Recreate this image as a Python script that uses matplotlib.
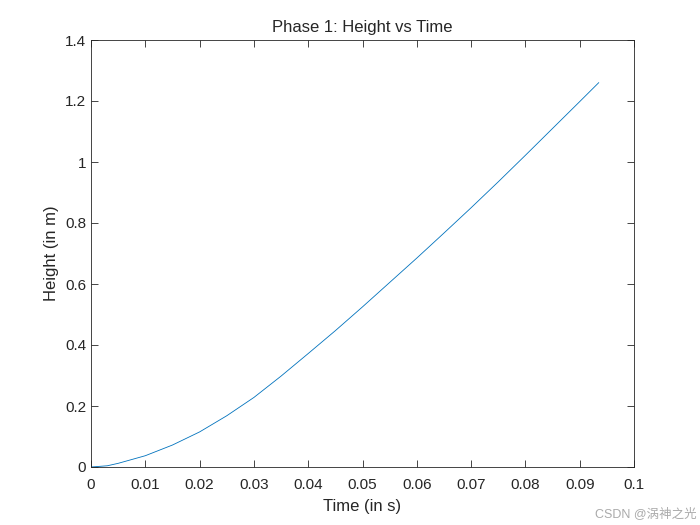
import matplotlib
matplotlib.use("Agg")
import matplotlib.pyplot as plt

time_s = [0, 0.003, 0.005, 0.01, 0.015, 0.02, 0.025, 0.03, 0.035, 0.04, 0.045, 0.05, 0.055, 0.06, 0.065, 0.07, 0.075, 0.08, 0.085, 0.09, 0.0935]
height_m = [0, 0.004, 0.012, 0.037, 0.072, 0.115, 0.168, 0.228, 0.298, 0.372, 0.447, 0.525, 0.605, 0.685, 0.767, 0.85, 0.935, 1.022, 1.11, 1.198, 1.26]
xticks = [0, 0.01, 0.02, 0.03, 0.04, 0.05, 0.06, 0.07, 0.08, 0.09, 0.1]
yticks = [0, 0.2, 0.4, 0.6, 0.8, 1, 1.2, 1.4]

plt.rcParams['font.family'] = ['Liberation Sans', 'Noto Sans CJK SC', 'DejaVu Sans']
fig = plt.figure(figsize=(7, 5.25), dpi=100)
ax = fig.add_axes([91/700, 1-467/525, (634-91)/700, (467-40)/525])
ax.plot(time_s, height_m, color='#0072BD', lw=0.6)
ax.set_xlim(0, 0.1); ax.set_ylim(0, 1.4)
ax.set_xticks(xticks); ax.set_xticklabels([f"{v:g}" for v in xticks])
ax.set_yticks(yticks); ax.set_yticklabels([f"{v:g}" for v in yticks])
ax.tick_params(direction='in', top=True, right=True, labelsize=11, colors='#262626', length=5, width=0.6)
ax.tick_params(axis='x', pad=8)
for s in ax.spines.values():
    s.set_linewidth(0.6); s.set_color('#262626')
ax.set_xlabel('Time (in s)', fontsize=12, color='#262626', labelpad=5)
ax.set_ylabel('Height (in m)', fontsize=12, color='#262626')
ax.set_title('Phase 1: Height vs Time', fontsize=12, color='#262626')
fig.text(0.995, 0.01, 'CSDN @涡神之光', ha='right', va='bottom', fontsize=9, color='#aaaaaa')
fig.savefig('out.png', dpi=100)
